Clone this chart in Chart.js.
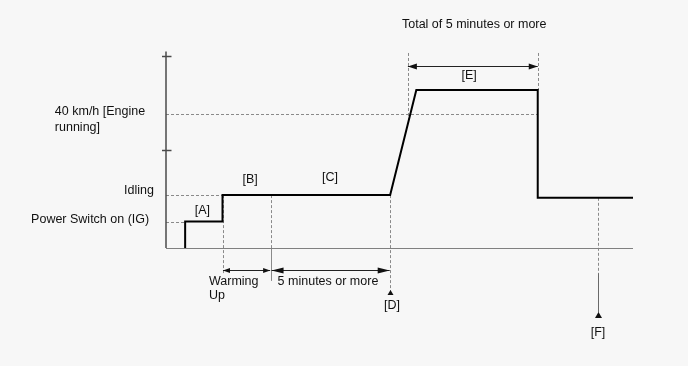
<!DOCTYPE html>
<html>
<head>
<meta charset="utf-8">
<script src="https://cdn.jsdelivr.net/npm/chart.js@4"></script>
<style>
html,body{margin:0;padding:0;background:#f7f7f7;}
#wrap{width:688px;height:366px;}
</style>
</head>
<body>
<div id="wrap"><canvas id="c" width="688" height="366"></canvas></div>
<script>
// ---- data (arbitrary time units on x, arbitrary speed units on y) ----
const timeX  = [4.1, 4.1, 12.1, 12.1, 48.0, 53.6, 79.6, 79.6, 100];
const speedY = [0, 13.5, 13.5, 27, 27, 80.6, 80.6, 25.6, 25.6];
const yTickValues = [50, 98];
const levelValues = [13.5, 27, 68.6];
const levelNames = ['Power Switch on (IG)', 'Idling', '40 km/h [Engine', 'running]'];
const levelEnds = [4.1, 12.1, 79.6];
const phaseNames = ['[A]', '[B]', '[C]', '[D]', '[E]', '[F]'];
const phaseX = [7.8, 18.0, 35.1, 48.4, 64.9, 92.5];
const phaseY = [19.0, 34.7, 35.7, -29.6, 87.8, -42.9];
const markerX = [12.1, 22.4, 48.0, 51.8, 79.6, 92.4];
const durationTexts = ['Warming', 'Up', '5 minutes or more', 'Total of 5 minutes or more'];

const points = timeX.map((x, i) => ({x: x, y: speedY[i]}));

function arrowHead(ctx, x, y, dir, len, hw) {
  ctx.beginPath();
  if (dir === 'l') { ctx.moveTo(x, y); ctx.lineTo(x + len, y - hw); ctx.lineTo(x + len, y + hw); }
  else if (dir === 'r') { ctx.moveTo(x, y); ctx.lineTo(x - len, y - hw); ctx.lineTo(x - len, y + hw); }
  else { ctx.moveTo(x, y); ctx.lineTo(x - hw, y + len); ctx.lineTo(x + hw, y + len); }
  ctx.closePath();
  ctx.fill();
}

const diagram = {
  id: 'diagram',
  beforeDraw(chart) {
    const ctx = chart.ctx;
    ctx.save();
    ctx.fillStyle = '#f7f7f7';
    ctx.fillRect(0, 0, chart.width, chart.height);
    ctx.restore();
  },
  beforeDatasetsDraw(chart) {
    const ctx = chart.ctx;
    const xs = chart.scales.x, ys = chart.scales.y;
    const X = v => xs.getPixelForValue(v), Y = v => ys.getPixelForValue(v);
    ctx.save();
    ctx.lineWidth = 1;
    ctx.strokeStyle = '#8a8a8a';
    ctx.setLineDash([3, 2]);
    levelValues.forEach((v, i) => {
      ctx.beginPath();
      ctx.moveTo(X(0), Math.round(Y(v)) + 0.5);
      ctx.lineTo(X(levelEnds[i]), Math.round(Y(v)) + 0.5);
      ctx.stroke();
    });
    const vline = (xv, y1, y2) => {
      const px = Math.round(X(xv)) + 0.5;
      ctx.beginPath(); ctx.moveTo(px, Y(y1)); ctx.lineTo(px, Y(y2)); ctx.stroke();
    };
    vline(markerX[0], 27, -12.8);
    vline(markerX[1], 27, 0);
    vline(markerX[2], 27, -23.0);
    vline(markerX[3], 99.5, 66);
    vline(markerX[4], 99.5, 80.6);
    vline(markerX[5], 25.6, -12.8);
    ctx.setLineDash([]);
    ctx.strokeStyle = '#8a8a8a';
    vline(markerX[1], 0, -16.8);
    ctx.strokeStyle = '#6a6a6a';
    vline(markerX[5], -12.8, -33);
    ctx.strokeStyle = '#808080';
    ctx.beginPath();
    ctx.moveTo(X(0), Math.round(Y(0)) + 0.5);
    ctx.lineTo(X(100), Math.round(Y(0)) + 0.5);
    ctx.stroke();
    ctx.strokeStyle = '#4a4a4a';
    ctx.lineWidth = 1.5;
    ctx.beginPath();
    ctx.moveTo(X(0), Y(0));
    ctx.lineTo(X(0), Y(100.2));
    ctx.stroke();
    yTickValues.forEach(v => {
      const py = Math.round(Y(v)) + 0.5;
      ctx.beginPath();
      ctx.moveTo(X(0) - 4, py);
      ctx.lineTo(X(0) + 5.5, py);
      ctx.stroke();
    });
    ctx.restore();
  },
  afterDatasetsDraw(chart) {
    const ctx = chart.ctx;
    const xs = chart.scales.x, ys = chart.scales.y;
    const X = v => xs.getPixelForValue(v), Y = v => ys.getPixelForValue(v);
    ctx.save();
    ctx.strokeStyle = '#222';
    ctx.fillStyle = '#111';
    ctx.lineWidth = 1;
    const hArrow = (x1, x2, yv, len, hw) => {
      const py = Math.round(Y(yv)) + 0.5;
      ctx.beginPath(); ctx.moveTo(X(x1), py); ctx.lineTo(X(x2), py); ctx.stroke();
      arrowHead(ctx, X(x1), py, 'l', len, hw);
      arrowHead(ctx, X(x2), py, 'r', len, hw);
    };
    hArrow(markerX[0] + 0.1, markerX[1] - 0.1, -11.2, 7, 2.5);
    hArrow(markerX[1] + 0.2, 47.9, -11.2, 12, 3);
    hArrow(markerX[3], markerX[4], 93.0, 9, 3);
    arrowHead(ctx, Math.round(X(markerX[2])) + 0.5, Y(-21.4), 'u', 5, 3);
    arrowHead(ctx, Math.round(X(markerX[5])) + 0.5, Y(-32.6), 'u', 6, 3.5);
    ctx.fillStyle = '#111';
    ctx.font = '12.5px "Liberation Sans", Arial, sans-serif';
    ctx.textBaseline = 'middle';
    ctx.textAlign = 'left';
    ctx.fillText(levelNames[2], X(-23.8), Y(69.4));
    ctx.fillText(levelNames[3], X(-23.8), Y(61.7));
    ctx.textAlign = 'right';
    ctx.fillText(levelNames[1], X(-2.6), Y(29.1));
    ctx.fillText(levelNames[0], X(-3.6), Y(14.3));
    ctx.textAlign = 'center';
    phaseNames.forEach((t, i) => ctx.fillText(t, X(phaseX[i]), Y(phaseY[i])));
    ctx.fillText(durationTexts[3], X(66.0), Y(113.8));
    ctx.textAlign = 'left';
    ctx.fillText(durationTexts[0], X(9.2), Y(-17.3));
    ctx.fillText(durationTexts[1], X(9.2), Y(-24.5));
    ctx.fillText(durationTexts[2], X(23.9), Y(-17.3));
    ctx.restore();
  }
};

new Chart(document.getElementById('c'), {
  type: 'line',
  data: {
    datasets: [{
      data: points,
      borderColor: '#000',
      borderWidth: 2,
      pointRadius: 0,
      tension: 0,
      fill: false,
      clip: false,
      borderJoinStyle: 'miter'
    }]
  },
  options: {
    responsive: false,
    animation: false,
    layout: {padding: {left: 166, right: 55, top: 52, bottom: 118}},
    plugins: {legend: {display: false}, tooltip: {enabled: false}},
    scales: {
      x: {type: 'linear', min: 0, max: 100, display: false},
      y: {type: 'linear', min: 0, max: 100, display: false}
    }
  },
  plugins: [diagram]
});
</script>
</body>
</html>
